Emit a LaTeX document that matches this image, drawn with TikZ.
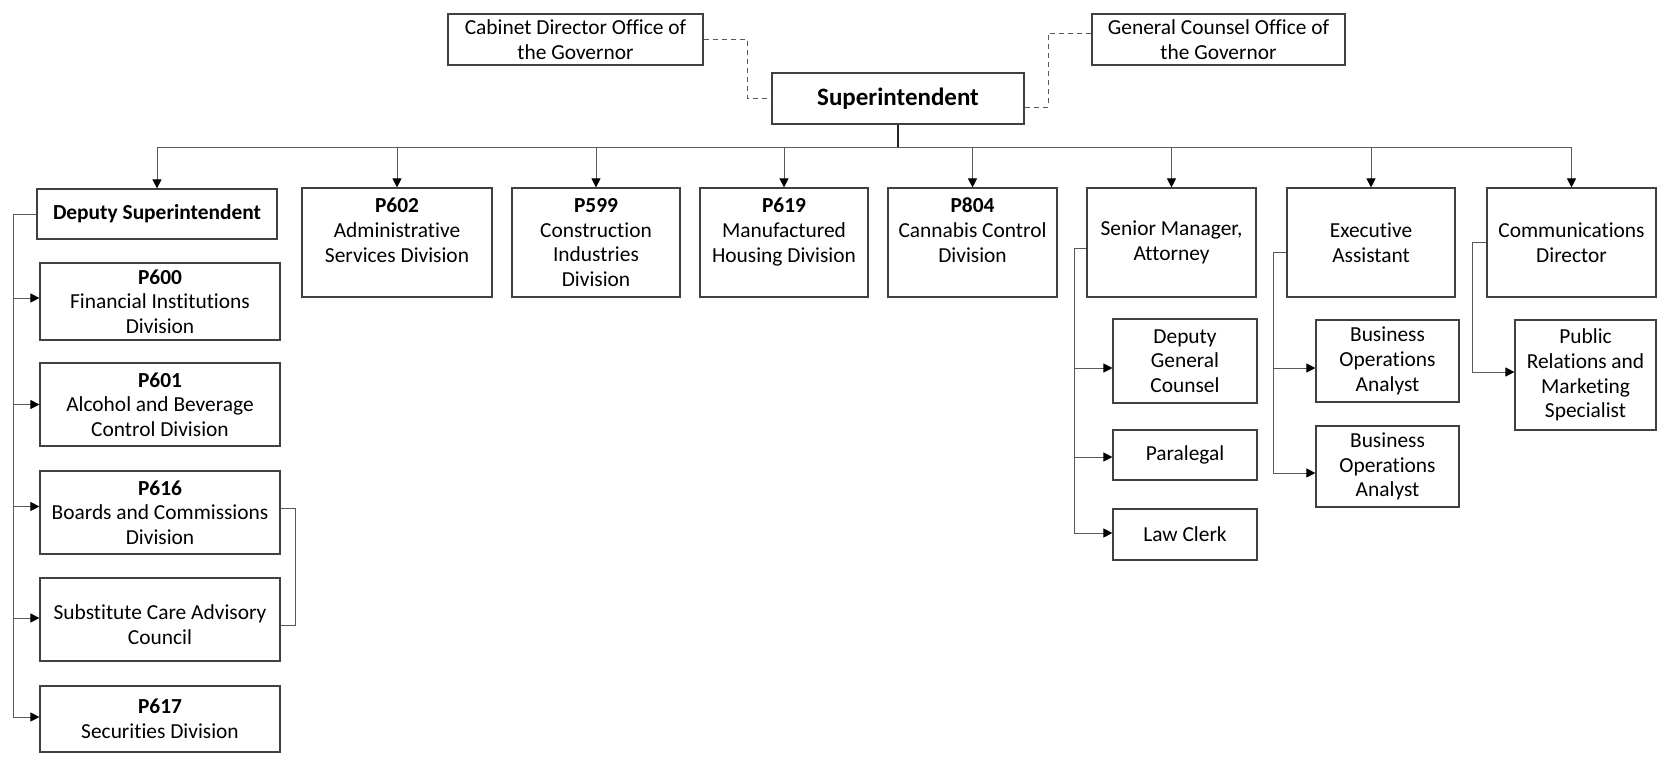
\documentclass[tikz,border=0pt]{standalone}
\usepackage{fontspec}
\setmainfont{Carlito}[Ligatures=NoCommon]
\usetikzlibrary{arrows.meta}
\tikzset{
  box/.style={draw=black!75, line width=1.2pt, fill=white, inner sep=0pt, align=center,
    font=\fontsize{21.4}{24.7}\selectfont},
  conn/.style={draw=black!65, line width=1pt},
  arr/.style={conn, -{Triangle[length=9pt,width=9pt,color=black]}},
  dsh/.style={draw=black!65, line width=1pt, dash pattern=on 5pt off 4pt},
}
\newcommand{\bx}[6]{\node[box, minimum width=#3pt, minimum height=#4pt] (#1) at (#2,#5) {#6};}
\begin{document}
\begin{tikzpicture}[x=1pt,y=-1pt]
\useasboundingbox (0,0) rectangle (1669,761);
% top
\bx{cab}{575.5}{255}{51}{39.5}{Cabinet Director Office of\\the Governor}
\bx{gc}{1218.5}{253}{51}{39.5}{General Counsel Office of\\the Governor}
\node[box, minimum width=252pt, minimum height=51pt, font=\fontsize{25}{28}\selectfont\bfseries] (sup) at (898,98.5) {Superintendent};
% second row
\bx{dep}{157}{240}{50}{214}{\textbf{Deputy Superintendent}}
\bx{p602}{397}{190}{109}{242.5}{\textbf{P602}\\Administrative\\Services Division\\~}
\bx{p599}{596}{168}{109}{242.5}{\textbf{P599}\\Construction\\Industries\\Division}
\bx{p619}{784}{168}{109}{242.5}{\textbf{P619}\\Manufactured\\Housing Division\\~}
\bx{p804}{972.5}{169}{109}{242.5}{\textbf{P804}\\Cannabis Control\\Division\\~}
\bx{sm}{1171.5}{169}{109}{242.5}{Senior Manager,\\Attorney}
\bx{ea}{1371}{168}{109}{242.5}{Executive\\Assistant}
\bx{cd}{1571.5}{169}{109}{242.5}{Communications\\Director}
% left column
\bx{p600}{160}{240}{77}{301.5}{\textbf{P600}\\Financial Institutions\\Division}
\bx{p601}{160}{240}{83}{404.5}{\textbf{P601}\\Alcohol and Beverage\\Control Division}
\bx{p616}{160}{240}{83}{512.5}{\textbf{P616}\\Boards and Commissions\\Division}
\bx{scac}{160}{240}{83}{619.5}{~\\Substitute Care Advisory\\Council}
\bx{p617}{160}{240}{66}{719}{\textbf{P617}\\Securities Division}
% senior manager children
\bx{dgc}{1185}{144}{84}{361}{Deputy\\General\\Counsel}
\bx{para}{1185}{144}{50}{455}{Paralegal}
\bx{lc}{1185}{144}{51}{534.5}{Law Clerk}
% exec children
\bx{boa1}{1387.5}{143}{82}{361}{Business\\Operations\\Analyst}
\bx{boa2}{1387.5}{143}{81}{466.5}{Business\\Operations\\Analyst}
% comm child
\bx{pr}{1585.5}{141}{110}{375}{Public\\Relations and\\Marketing\\Specialist}
% coordinates
\coordinate (bus) at (898,147);
\coordinate (dc1) at (747.5,0);
\coordinate (dc2) at (1048,0);
\coordinate (dl) at (13,0);
\coordinate (sml) at (1074,0);
\coordinate (eal) at (1273,0);
\coordinate (cdl) at (1472,0);
% dashed advisory lines
\draw[dsh] (cab.east) -- (cab.east -| dc1) -- (dc1 |- sup.west) -- (sup.west);
\draw[dsh] ([yshift=-8.5pt]sup.east) -- ([yshift=-8.5pt]sup.east -| dc2) -- ([yshift=6.5pt]gc.west -| dc2) -- ([yshift=6.5pt]gc.west);
% main bus
\draw[draw=black!85, line width=1.5pt] (sup.south) -- (bus);
\draw[conn] (bus -| dep.north) -- (bus -| cd.north);
\foreach \n in {dep,p602,p599,p619,p804,sm,ea,cd}{
  \draw[arr] (bus -| \n.north) -- (\n.north);
}
% deputy column
\draw[conn] (dep.west) -- (dep.west -| dl) -- ([yshift=2pt]p617.west -| dl);
\draw[arr] ([yshift=3.5pt]p600.west -| dl) -- ([yshift=3.5pt]p600.west);
\draw[arr] (p601.west -| dl) -- (p601.west);
\draw[arr] ([yshift=6pt]p616.west -| dl) -- ([yshift=6pt]p616.west);
\draw[arr] ([yshift=1.5pt]scac.west -| dl) -- ([yshift=1.5pt]scac.west);
\draw[arr] ([yshift=2pt]p617.west -| dl) -- ([yshift=2pt]p617.west);
\draw[conn] ([yshift=4pt]p616.east) -- ++(15,0) |- ([yshift=-6pt]scac.east);
% senior manager
\draw[conn] ([yshift=-5.5pt]sm.west) -- ([yshift=-5.5pt]sm.west -| sml) -- ([yshift=1.5pt]lc.west -| sml);
\draw[arr] ([yshift=-7pt]dgc.west -| sml) -- ([yshift=-7pt]dgc.west);
\draw[arr] ([yshift=-2pt]para.west -| sml) -- ([yshift=-2pt]para.west);
\draw[arr] ([yshift=1.5pt]lc.west -| sml) -- ([yshift=1.5pt]lc.west);
% exec
\draw[conn] ([yshift=-9.5pt]ea.west) -- ([yshift=-9.5pt]ea.west -| eal) -- ([yshift=-6.5pt]boa2.west -| eal);
\draw[arr] ([yshift=-7pt]boa1.west -| eal) -- ([yshift=-7pt]boa1.west);
\draw[arr] ([yshift=-6.5pt]boa2.west -| eal) -- ([yshift=-6.5pt]boa2.west);
% comm
\draw[conn] (cd.west) -- (cd.west -| cdl) -- ([yshift=3pt]pr.west -| cdl);
\draw[arr] ([yshift=3pt]pr.west -| cdl) -- ([yshift=3pt]pr.west);
\end{tikzpicture}
\end{document}
